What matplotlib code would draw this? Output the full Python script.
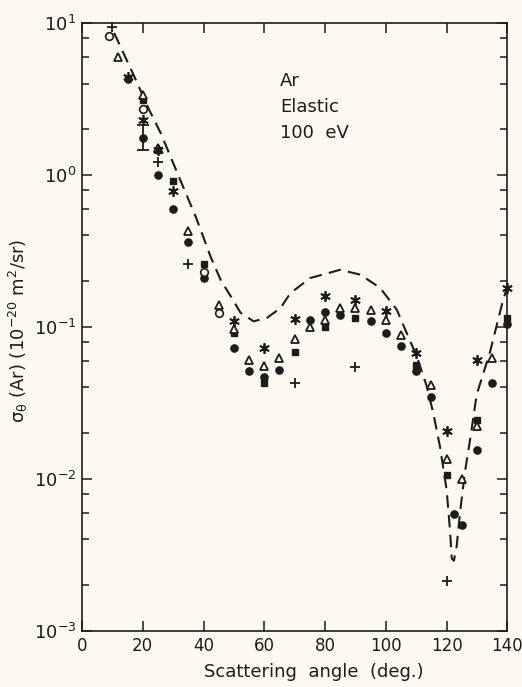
import matplotlib.pyplot as plt
import numpy as np
from matplotlib.ticker import LogLocator, NullFormatter, MultipleLocator

plt.rcParams['font.family'] = ['DejaVu Sans Condensed', 'DejaVu Sans']
plt.rcParams['mathtext.default'] = 'regular'

ink = '#1c1c1c'
paper = '#fcfaf0'

# theory (dashed curve)
theory_angle = [10.6, 17.7, 22.1, 25.9, 31.4, 37.4, 39.05, 42.3, 45.6, 48.9, 52.2, 56.5,
                60.9, 65.3, 68.6, 75.1, 85, 91.6, 98.1, 103.6, 106.9, 110.2, 113.5,
                115.6, 117.8, 120.0, 121.1, 121.7, 122.4, 123.3, 124.4, 126.0, 127.7,
                129.9, 134.2, 138.6, 139.7]
theory_dcs = [8.6, 4.24, 2.69, 1.89, 1.03, 0.534, 0.436, 0.291, 0.205, 0.160, 0.124, 0.109,
              0.115, 0.133, 0.167, 0.21, 0.238, 0.221, 0.181, 0.13, 0.091, 0.064, 0.0406,
              0.0272, 0.0164, 0.0085, 0.00465, 0.0030, 0.0029, 0.0036, 0.00597, 0.011, 0.018,
              0.036, 0.0675, 0.151, 0.176]

# filled circles
circ_angle = [15, 20, 25, 30, 35, 40, 50, 55, 60, 65, 75, 80, 85, 95, 100, 105, 110, 115,
              122.5, 125, 130, 135, 140]
circ_dcs = [4.3, 1.75, 1.0, 0.60, 0.36, 0.21, 0.073, 0.051, 0.047, 0.052, 0.112, 0.125, 0.12,
            0.11, 0.092, 0.0745, 0.051, 0.0349, 0.0059, 0.0050, 0.0156, 0.0427, 0.105]
circ_err_lo = 1.47
circ_err_hi = 2.14

# open triangles
tri_angle = [12, 20, 25, 35, 45, 50, 55, 60, 65, 70, 75, 80, 85, 90, 95, 100, 105, 115, 120,
             125, 130, 135]
tri_dcs = [6.0, 3.35, 1.5, 0.43, 0.14, 0.097, 0.061, 0.055, 0.063, 0.083, 0.100, 0.112, 0.133,
           0.133, 0.13, 0.112, 0.088, 0.0417, 0.0136, 0.0100, 0.0222, 0.0625]

# asterisks
star_angle = [15, 20, 25, 30, 50, 60, 70, 80, 90, 100, 110, 120, 130, 140]
star_dcs = [4.4, 2.3, 1.45, 0.78, 0.109, 0.073, 0.113, 0.16, 0.151, 0.127, 0.0675, 0.0206,
            0.061, 0.18]

# filled squares
sq_angle = [20, 25, 30, 40, 50, 60, 70, 80, 90, 110, 120, 130, 140]
sq_dcs = [3.1, 1.45, 0.91, 0.26, 0.092, 0.043, 0.069, 0.10, 0.115, 0.0565, 0.0107, 0.0245,
          0.115]

# plus signs
plus_angle = [10, 25, 35, 70, 90, 120]
plus_dcs = [9.4, 1.22, 0.26, 0.043, 0.0546, 0.00214]

# open circles
oc_angle = [9, 20, 40, 45]
oc_dcs = [8.2, 2.7, 0.23, 0.124]

x_ticks = [0, 20, 40, 60, 80, 100, 120, 140]

fig = plt.figure(figsize=(5.22, 6.87), dpi=100, facecolor=paper)
ax = fig.add_axes([0.157, 0.0815, 0.815, 0.885], facecolor=paper)

ax.plot(theory_angle, theory_dcs, color=ink, linestyle=(0, (6, 3.5)), linewidth=1.5)

ax.errorbar([20], [circ_dcs[1]],
            yerr=[[circ_dcs[1] - circ_err_lo], [circ_err_hi - circ_dcs[1]]],
            fmt='none', ecolor=ink, elinewidth=1.3, capsize=4, capthick=1.3)

kw = dict(linestyle='none', clip_on=False, zorder=3)
ax.plot(sq_angle, sq_dcs, marker='s', ms=4.8, color=ink, **kw)
ax.plot(circ_angle, circ_dcs, marker='o', ms=5.2, color=ink, **kw)
ax.plot(tri_angle, tri_dcs, marker='^', ms=6, mfc=paper, mec=ink, mew=1.3, **kw)
ax.plot(oc_angle, oc_dcs, marker='o', ms=5.5, mfc=paper, mec=ink, mew=1.2, **kw)
ax.plot(star_angle, star_dcs, marker=(6, 2, 0), ms=7.5, color=ink, mew=1.3, **kw)
ax.plot(plus_angle, plus_dcs, marker='+', ms=7.5, color=ink, mew=1.3, **kw)

ax.set_yscale('log')
ax.set_xlim(0, 140)
ax.set_ylim(1e-3, 1e1)
ax.set_xticks(x_ticks)
ax.set_xticklabels([str(t) for t in x_ticks])
ax.yaxis.set_major_locator(LogLocator(base=10, numticks=10))
ax.yaxis.set_minor_locator(LogLocator(base=10, subs=(2, 4, 6, 8), numticks=10))
ax.yaxis.set_minor_formatter(NullFormatter())

for s in ax.spines.values():
    s.set_color(ink)
    s.set_linewidth(1.2)
ax.tick_params(which='both', direction='in', top=True, right=True, colors=ink,
               width=1.1, labelsize=12)
ax.tick_params(which='major', length=7.5, pad=4)
ax.tick_params(which='minor', length=5)
ax.tick_params(axis='y', labelsize=13)

ax.set_xlabel('Scattering  angle  (deg.)', fontsize=13, color=ink)
ax.xaxis.set_label_coords(0.544, -0.052)
ax.set_ylabel(r'$\sigma_\theta$ (Ar) (10$^{-20}$ m$^2$/sr)', fontsize=13, color=ink)
ax.yaxis.set_label_coords(-0.122, 0.493)

ax.text(0.465, 0.92, 'Ar\nElastic\n100  eV', transform=ax.transAxes, fontsize=13,
        color=ink, va='top', ha='left', linespacing=1.6)

plt.savefig('out.png', dpi=100, facecolor=paper)
